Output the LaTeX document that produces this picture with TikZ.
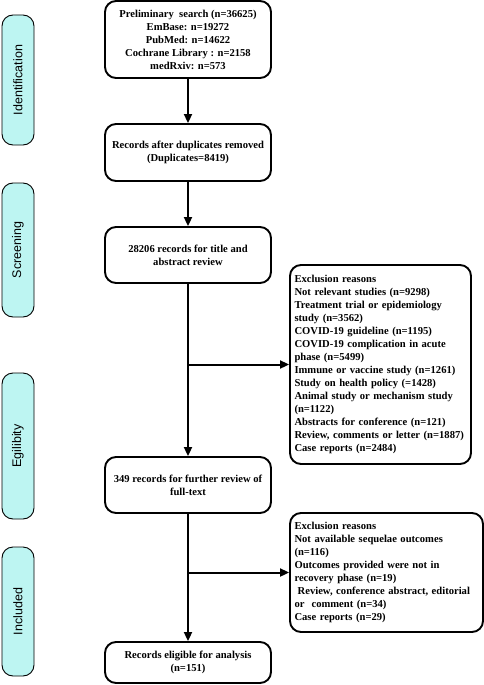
\documentclass[tikz,border=0pt]{standalone}
\usepackage{fontspec}
\setmainfont{Liberation Serif}
\newfontfamily\labelfont{Liberation Sans}
\usetikzlibrary{arrows.meta,calc}
\definecolor{phasefill}{HTML}{BDF5F2}
\begin{document}
\begin{tikzpicture}[x=1pt,y=-1pt,
  mainbox/.style={draw,line width=1.9pt,rounded corners=11pt,minimum width=166pt,align=center,
    font=\fontsize{10.6}{13}\selectfont\bfseries,inner sep=0pt},
  exclbox/.style={draw,line width=1.9pt,rounded corners=11pt,align=left,inner xsep=4.5pt,inner ysep=0pt,
    font=\fontsize{10.6}{13}\selectfont\bfseries},
  phase/.style={draw,line width=0.9pt,fill=phasefill,rounded corners=11pt,rotate=90,minimum height=32pt,
    inner sep=0pt,font=\labelfont\fontsize{12.5}{14}\selectfont},
  flow/.style={line width=2pt,-{Triangle[length=9pt,width=8pt]}}]
\useasboundingbox (0,0) rectangle (484,685);
% phase labels
\node[phase,minimum width=130pt] (p1) at (18,80) {Identification};
\node[phase,minimum width=134pt] (p2) at (18,250) {Screening};
\node[phase,minimum width=146pt] (p3) at (18,446) {Egilibity};
\node[phase,minimum width=129pt] (p4) at (18,611.5) {Included};
% main boxes
\node[mainbox,minimum height=77pt] (b1) at (188,39.5) {Preliminary\ \ search (n=36625)\\EmBase: n=19272\\PubMed: n=14622\\Cochrane Library : n=2158\\medRxiv: n=573};
\node[mainbox,minimum height=57pt] (b2) at (188,152.5) {Records after duplicates removed\\(Duplicates=8419)};
\node[mainbox,minimum height=56pt] (b3) at (188,255) {28206 records for title and\\abstract review};
\node[mainbox,minimum height=56pt] (b4) at (188,485) {349 records for further review of\\full-text};
\node[mainbox,minimum height=41pt] (b5) at (188,662.5) {Records eligible for analysis\\(n=151)};
% exclusion boxes
\node[exclbox,text width=172pt,minimum height=199pt] (e1) at (380.5,364.5) {Exclusion reasons\\Not relevant studies (n=9298)\\Treatment trial or epidemiology\\study (n=3562)\\COVID-19 guideline (n=1195)\\COVID-19 complication in acute\\phase (n=5499)\\Immune or vaccine study (n=1261)\\Study on health policy (=1428)\\Animal study or mechanism study\\(n=1122)\\Abstracts for conference (n=121)\\Review, comments or letter (n=1887)\\Case reports (n=2484)};
\node[exclbox,text width=184pt,minimum height=119pt] (e2) at (386.5,572.5) {Exclusion reasons\\Not available sequelae outcomes\\(n=116)\\Outcomes provided were not in\\recovery phase (n=19)\\\hspace*{0.3em}Review, conference abstract, editorial\\or\ \ comment (n=34)\\Case reports (n=29)};
% connectors
\coordinate (j1) at (b3.south |- e1.west);
\coordinate (j2) at (b4.south |- e2.west);
\draw[flow] (b1) -- (b2);
\draw[flow] (b2) -- (b3);
\draw[flow] (b3) -- (b4);
\draw[flow] (b4) -- (b5);
\draw[flow] (j1) -- (e1.west);
\draw[flow] (j2) -- (e2.west);
\end{tikzpicture}
\end{document}
